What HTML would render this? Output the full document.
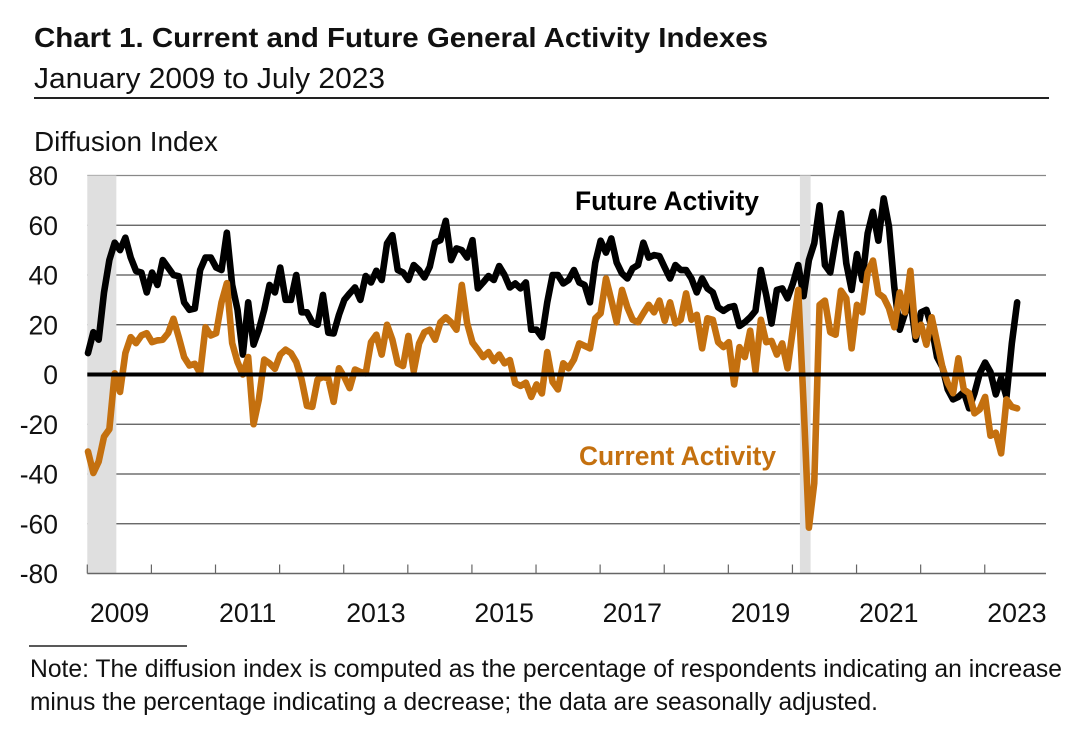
<!DOCTYPE html>
<html>
<head>
<meta charset="utf-8">
<title>Chart 1. Current and Future General Activity Indexes</title>
<style>
html,body{margin:0;padding:0;background:#fff;width:1090px;height:744px;overflow:hidden}
svg{display:block}
text{font-family:"Liberation Sans",sans-serif;fill:#111}
</style>
</head>
<body>
<svg id="chart" xmlns="http://www.w3.org/2000/svg" width="1090" height="744" viewBox="0 0 1090 744">
  <rect x="0" y="0" width="1090" height="744" fill="#fff"/>
  <text x="34" y="47" font-size="28" font-weight="700" textLength="734" lengthAdjust="spacingAndGlyphs">Chart 1. Current and Future General Activity Indexes</text>
  <text x="34" y="88" font-size="29" textLength="351" lengthAdjust="spacingAndGlyphs">January 2009 to July 2023</text>
  <line x1="34" y1="98" x2="1049" y2="98" stroke="#222" stroke-width="2"/>
  <text x="34" y="151" font-size="28" textLength="184" lengthAdjust="spacingAndGlyphs">Diffusion Index</text>
  <g id="grid"></g>
  <g id="bands"></g>
  <g id="axes"></g>
  <g id="series"></g>
  <g id="zero"></g>
  <g id="ylabels"></g>
  <g id="xlabels"></g>
  <text x="575" y="210" font-size="27" font-weight="700" textLength="184" lengthAdjust="spacingAndGlyphs" style="fill:#000">Future Activity</text>
  <text x="579" y="465" font-size="27" font-weight="700" textLength="197" lengthAdjust="spacingAndGlyphs" style="fill:#c4700f">Current Activity</text>
  <line x1="29" y1="646" x2="187" y2="646" stroke="#222" stroke-width="1.6"/>
  <text x="30" y="677" font-size="25" textLength="1032" lengthAdjust="spacingAndGlyphs">Note: The diffusion index is computed as the percentage of respondents indicating an increase</text>
  <text x="30" y="710" font-size="25" textLength="848" lengthAdjust="spacingAndGlyphs">minus the percentage indicating a decrease; the data are seasonally adjusted.</text>
</svg>
<script>
var futureActivity = [
8.6,17,14,33,46,53,50,55,47,41.6,41,33,41,36,46,43,40,39.5,29,26,26.5,42,47,47,43,42,57,36,26,8,29,12,18,26,36,33,43,30,30,40,25,25,21,20,32,16.8,
16.5,24,30,32.6,35,30,39.6,37,41.7,38,52.7,56,42,41,38,44,42,39,43.3,53,54,61.8,46,50.7,50,47,54,34.6,37,39.6,38,43.6,40,35,36.6,34.6,37,18,18,15,29,40,40,
36.6,38,42,37,36,29,45,53.8,49,54.7,45,40.6,38.6,42.7,44,53,47,48,47.6,43,38.6,44,42,42,38.6,33,38.6,34.6,33,27,25.6,27,27.5,19.5,21,23,25.6,42,32,20.5,34,
34.6,30.6,36.6,44,31.5,46,52.7,68,44,41,54,64.8,44.7,34,48.4,38,56.7,65.4,53.8,70.8,59.4,35,18,24.6,30,14,25,26,19,7,3,-6,-10,-9,-7,-13.6,-7.6,0.5,4.8,1,-8,-1.5,-9,12.5,29
];
var currentActivity = [
-31,-39.6,-35,-25,-22,0.5,-7,8.6,15,12.6,15.7,16.6,13,13.7,14,16.6,22.4,15,7,3.6,4.3,0.5,19,15.7,16.6,29,36.7,12.6,5,0,7,-20,-10,6,4.5,2.3,8,10,8.6,5,-2,-12.6,-13,-2,-1,-1.5,
-11,2.5,-1,-5.5,2,1,0.5,13,16,8,20,14,4.5,3.4,15.5,1.4,12.5,17,18,14,21,23,21,18,36,20.6,12.8,10,7,9,5.4,8,4.5,5.8,-3.5,-4.6,-3.3,-9,-4,-7.6,9,-3,-6,
4.5,2.5,6,12.5,11.5,10.5,22.6,24.6,38.6,30,21,34,27,22,21,24.6,28,25,29.7,21.6,29,20.6,22,32.6,22,24,10.5,22.6,22,13,11,13,-4,11,7,17.6,1.5,22,13,13.5,8,
12.5,2.5,18,34,-11.6,-61.6,-43.7,28,29.7,17,16,33.7,30.6,10.5,28,25,41,45.8,32.6,31,26.6,19,33,25,41.7,15.5,20,12,23,13,3,-3.5,-7.5,6.5,-6,-7.5,-15.6,-14,-9,-24.6,-23.4,-31.7,-10,-13,-13.6
];
var yTicks = [80,60,40,20,0,-20,-40,-60,-80];
var yearLabels = [2009,2011,2013,2015,2017,2019,2021,2023];
var recessionStarts = [0,133.4];
var recessionEnds = [5.44,135.4];

var NS = 'http://www.w3.org/2000/svg';
var monthW = 5.342;
function xPoint(i){ return 88 + i * 5.34; }
function xEdge(m){ return 87.3 + m * monthW; }
function xYear(year){ return 87.3 + (year - 2009) * 12 * monthW; }
function yVal(v){ return 374.5 - v * 2.4875; }
function make(tag, attrs, parent){
  var el = document.createElementNS(NS, tag);
  for (var k in attrs) el.setAttribute(k, attrs[k]);
  parent.appendChild(el);
  return el;
}
var gridG = document.getElementById('grid');
var bandG = document.getElementById('bands');
var axisG = document.getElementById('axes');
var seriesG = document.getElementById('series');
var zeroG = document.getElementById('zero');
var yLabG = document.getElementById('ylabels');
var xLabG = document.getElementById('xlabels');

yTicks.forEach(function(t){
  if (t !== 0 && t !== -80) {
    var gl = make('line', {x1:87.3, x2:1046, y1:yVal(t), y2:yVal(t), stroke: t === 80 ? '#888' : '#555', 'stroke-width':1.3}, gridG);
    
    
  }
  var lab = make('text', {x:58, y:yVal(t)+9.5, 'font-size':26.5, 'text-anchor':'end'}, yLabG);
  lab.textContent = String(t);
  
  
});

recessionStarts.forEach(function(s, i){
  var band = make('rect', {x:xEdge(s), y:yVal(80), width:xEdge(recessionEnds[i])-xEdge(s), height:yVal(-80)-yVal(80), fill:'#dfdfdf'}, bandG);
  
  
});

var axisLine = make('line', {x1:87.3, x2:1046, y1:yVal(-80), y2:yVal(-80), stroke:'#666', 'stroke-width':1.4}, axisG);


for (var yr = 2009; yr <= 2023; yr++) {
  var tk = make('line', {x1:xYear(yr), x2:xYear(yr), y1:yVal(-80)-9, y2:yVal(-80), stroke:'#666', 'stroke-width':1.2}, axisG);
  
  
}
yearLabels.forEach(function(y){
  var lab = make('text', {x:xYear(y)+32.2, y:622, 'font-size':26.7, 'text-anchor':'middle'}, xLabG);
  lab.textContent = String(y);
  
  
});

function pathFor(values){
  return values.map(function(v, i){ return (i ? 'L' : 'M') + xPoint(i).toFixed(2) + ' ' + yVal(v).toFixed(2); }).join(' ');
}
var futureLine = make('path', {d:pathFor(futureActivity), fill:'none', stroke:'#000', 'stroke-width':6.6, 'stroke-linejoin':'round', 'stroke-linecap':'round'}, seriesG);


var currentLine = make('path', {d:pathFor(currentActivity), fill:'none', stroke:'#c4700f', 'stroke-width':6.6, 'stroke-linejoin':'round', 'stroke-linecap':'round'}, seriesG);



var zeroLine = make('line', {x1:87.3, x2:1046, y1:yVal(0), y2:yVal(0), stroke:'#000', 'stroke-width':4}, zeroG);


</script>
</body>
</html>
